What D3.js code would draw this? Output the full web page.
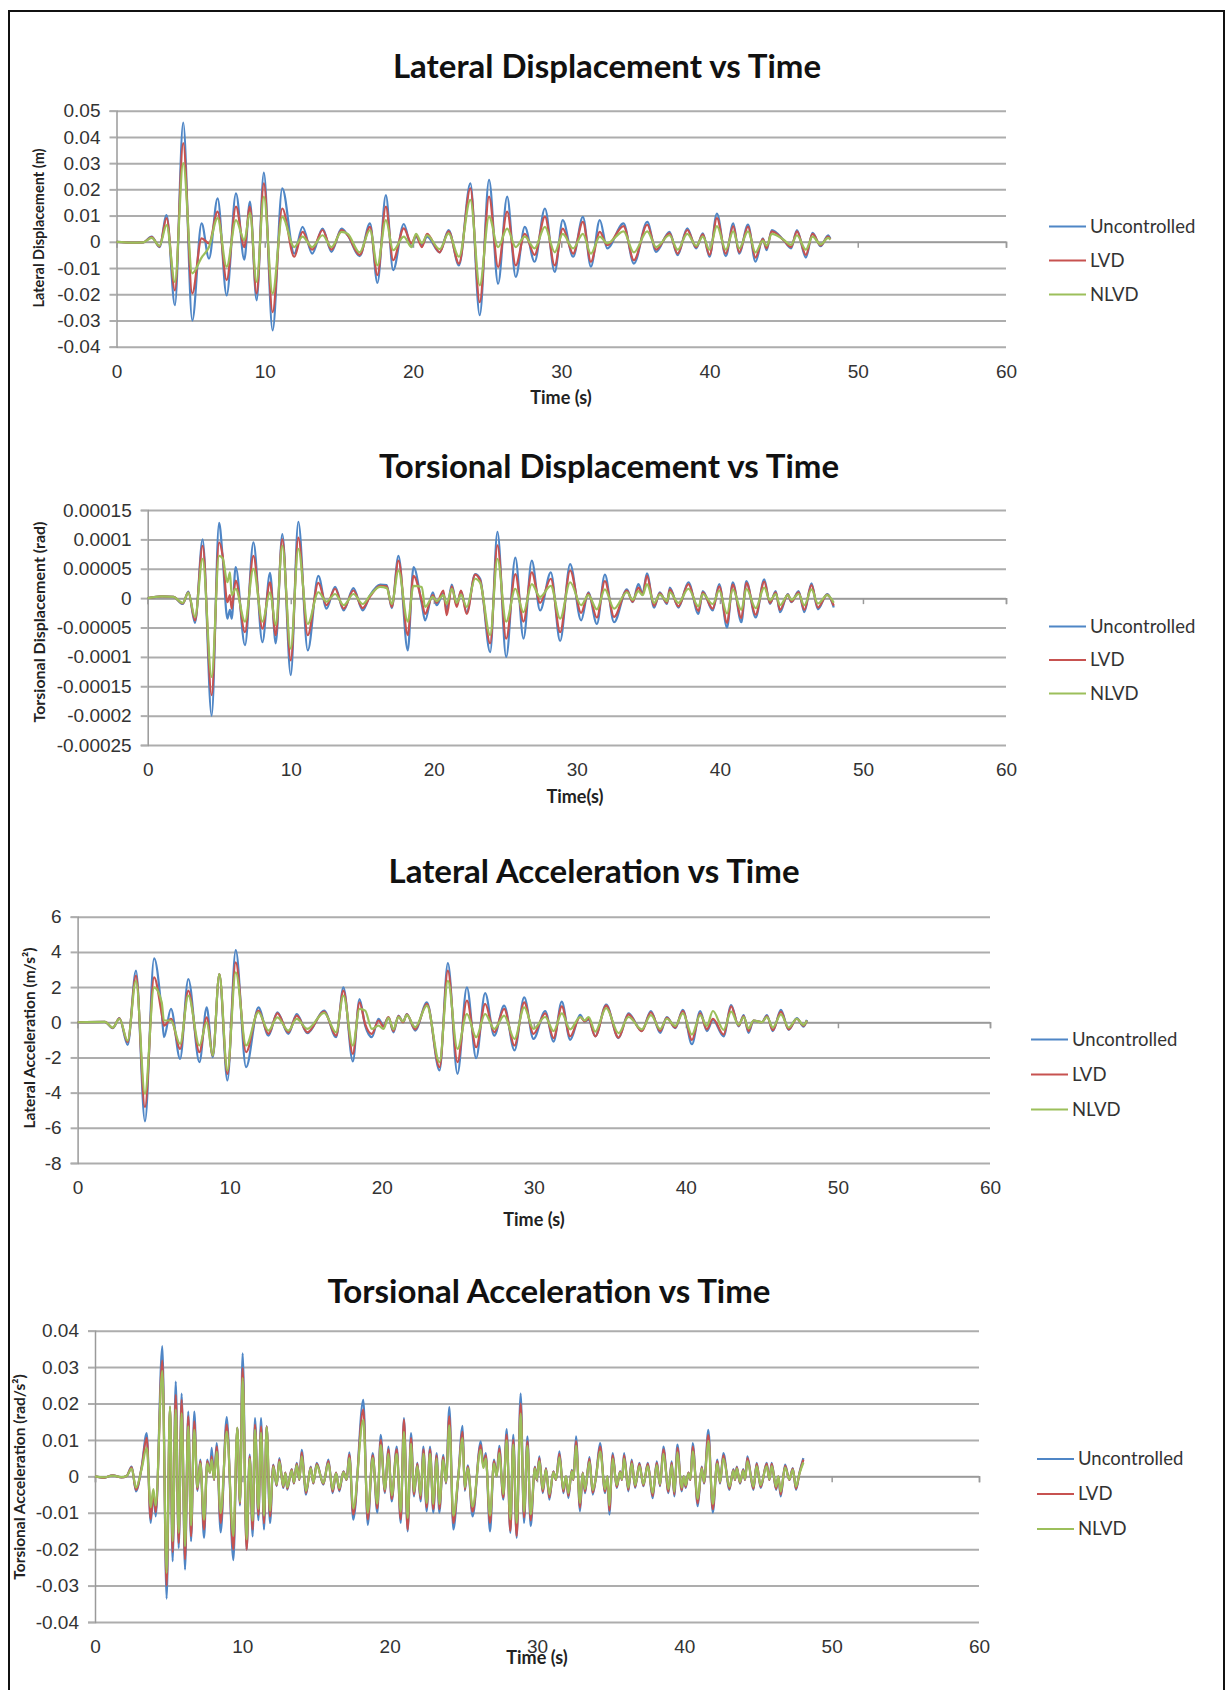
<!DOCTYPE html>
<html>
<head>
<meta charset="utf-8">
<script src="https://cdn.jsdelivr.net/npm/d3@7"></script>
<style>
  body { margin: 0; background: #fff; }
  svg { display: block; font-family: Lato, "Noto Sans", sans-serif; }
</style>
</head>
<body>
<script>
// ---------- shared ----------
const xTicks = [0, 10, 20, 30, 40, 50, 60];
const seriesNames = ["Uncontrolled", "LVD", "NLVD"];

// ---------- Lateral Displacement (m) ----------
const latDispTicks = [0.05, 0.04, 0.03, 0.02, 0.01, 0, -0.01, -0.02, -0.03, -0.04];
const latDispLabels = ["0.05", "0.04", "0.03", "0.02", "0.01", "0", "-0.01", "-0.02", "-0.03", "-0.04"];
const latDispTime = [
  0, 1.0, 1.8, 2.37, 2.9, 3.38, 3.94, 4.5, 5.11, 5.74,
  6.24, 6.82, 7.43, 8.06, 8.62, 9.0, 9.45, 9.94, 10.53, 11.18,
  11.99, 12.55, 13.2, 13.9, 14.5, 15.18, 15.6, 16.4, 17.1, 17.6,
  18.17, 18.66, 19.38, 19.9, 20.2, 20.6, 20.95, 21.8, 22.4, 23.1,
  23.87, 24.5, 25.13, 25.74, 26.35, 26.93, 27.54, 28.2, 28.9, 29.56,
  30.1, 30.8, 31.46, 32.0, 32.6, 33.1, 34.2, 34.9, 35.8, 36.4,
  37.3, 37.85, 38.5, 39.1, 39.55, 40.0, 40.5, 41.1, 41.6, 42.0,
  42.6, 43.1, 43.6, 43.85, 44.2, 45.0, 45.5, 45.9, 46.5, 46.95,
  47.5, 48.0, 48.15];
const latDispUnc = [
  0, -0.0003, -0.0002, 0.002, -0.002, 0.0102, -0.0242, 0.0455, -0.030, 0.007,
  -0.0064, 0.0166, -0.0204, 0.0185, -0.0068, 0.0153, -0.0223, 0.0264, -0.0338, 0.0204,
  -0.0045, 0.0057, -0.0045, 0.005, -0.0038, 0.005, 0.0025, -0.0055, 0.007, -0.0157,
  0.0178, -0.0108, 0.0068, -0.002, 0.002, -0.0012, 0.002, -0.004, 0.0045, -0.009,
  0.0223, -0.028, 0.0236, -0.016, 0.0172, -0.0134, 0.0057, -0.0076, 0.0127, -0.0115,
  0.0083, -0.0057, 0.0095, -0.0095, 0.0083, -0.0025, 0.007, -0.0083, 0.0076, -0.0038,
  0.0038, -0.0051, 0.0051, -0.0025, 0.0032, -0.0057, 0.0108, -0.0055, 0.007, -0.0045,
  0.0066, -0.0076, 0.0013, -0.0032, 0.0045, 0.0006, -0.0025, 0.0045, -0.006, 0.0034,
  -0.0017, 0.0025, 0.0012];
const latDispLvd = [
  0, -0.0003, -0.0002, 0.0018, -0.0018, 0.009, -0.0185, 0.0376, -0.0197, 0.0013,
  -0.0006, 0.0115, -0.0146, 0.0134, -0.002, 0.0134, -0.0197, 0.0223, -0.0268, 0.0127,
  -0.0057, 0.0038, -0.003, 0.0045, -0.003, 0.0045, 0.0025, -0.005, 0.0057, -0.0127,
  0.0134, -0.007, 0.0051, -0.0006, 0.0025, -0.002, 0.003, -0.004, 0.004, -0.0083,
  0.0204, -0.023, 0.0172, -0.0096, 0.0115, -0.009, 0.003, -0.005, 0.0096, -0.009,
  0.005, -0.0045, 0.0076, -0.0076, 0.0038, -0.0013, 0.006, -0.007, 0.0065, -0.003,
  0.0032, -0.0045, 0.0045, -0.002, 0.0028, -0.005, 0.009, -0.0045, 0.006, -0.004,
  0.0058, -0.006, 0.001, -0.0025, 0.004, 0.0006, -0.002, 0.004, -0.005, 0.003,
  -0.0014, 0.002, 0.001];
const latDispNlvd = [
  0, -0.0003, -0.0002, 0.0015, -0.0015, 0.0064, -0.0153, 0.030, -0.012, -0.006,
  -0.002, 0.009, -0.0095, 0.0083, 0.0006, 0.011, -0.0153, 0.0172, -0.0197, 0.0095,
  -0.002, 0.002, -0.002, 0.0025, -0.002, 0.0038, 0.003, -0.004, 0.0045, -0.009,
  0.0083, -0.0032, 0.002, -0.002, 0.003, -0.0005, 0.0025, -0.0028, 0.0032, -0.0057,
  0.016, -0.0166, 0.0096, -0.002, 0.005, -0.002, 0.002, -0.0025, 0.0057, -0.004,
  0.003, -0.0025, 0.003, -0.0045, 0.002, -0.0006, 0.004, -0.004, 0.004, -0.002,
  0.0025, -0.003, 0.003, -0.0015, 0.002, -0.003, 0.006, -0.003, 0.004, -0.0025,
  0.004, -0.004, 0.0005, -0.0015, 0.003, 0.0008, -0.0012, 0.0025, -0.003, 0.002,
  -0.001, 0.0015, 0.0008];

// ---------- Torsional Displacement (rad) ----------
const torDispTicks = [0.00015, 0.0001, 0.00005, 0, -0.00005, -0.0001, -0.00015, -0.0002, -0.00025];
const torDispLabels = ["0.00015", "0.0001", "0.00005", "0", "-0.00005", "-0.0001", "-0.00015", "-0.0002", "-0.00025"];
const torDispTime = [
  0, 1.0, 1.8, 2.45, 2.84, 3.31, 3.84, 4.47, 4.99, 5.24,
  5.57, 5.75, 5.87, 6.15, 6.8, 7.39, 8.02, 8.55, 8.95, 9.41,
  10.0, 10.53, 11.19, 11.93, 12.5, 13.1, 13.7, 14.38, 15.03, 15.55,
  16.25, 16.71, 17.06, 17.53, 18.18, 18.58, 19.16, 19.39, 19.93, 20.2,
  20.67, 20.9, 21.26, 21.6, 21.9, 22.3, 22.89, 23.24, 23.94, 24.45,
  25.06, 25.7, 26.27, 26.85, 27.43, 28.18, 28.83, 29.53, 30.3, 30.8,
  31.4, 31.96, 32.6, 33.5, 33.9, 34.3, 34.6, 34.9, 35.4, 35.8,
  36.3, 36.5, 37.1, 37.8, 38.5, 38.8, 39.5, 39.95, 40.5, 40.9,
  41.5, 41.85, 42.5, 43.1, 43.5, 43.9, 44.2, 44.75, 45.0, 45.5,
  45.9, 46.4, 46.85, 47.5, 47.96];
const torDispUnc = [
  0, 0.3e-5, 0.2e-5, -1.0e-5, 1.1e-5, -4.2e-5, 10.0e-5, -20.0e-5, 12.8e-5, 7.0e-5,
  -3.5e-5, -2.0e-5, -3.5e-5, 5.3e-5, -8.0e-5, 9.5e-5, -7.5e-5, 4.3e-5, -7.7e-5, 10.9e-5,
  -13.1e-5, 13.0e-5, -8.9e-5, 3.8e-5, -1.8e-5, 1.9e-5, -2.1e-5, 1.7e-5, -2.1e-5, 0.5e-5,
  2.3e-5, 2.2e-5, -1.7e-5, 7.2e-5, -8.9e-5, 5.3e-5, -1.0e-5, -3.8e-5, 1.0e-5, -1.2e-5,
  0.8e-5, -2.0e-5, 2.3e-5, -1.2e-5, 1.2e-5, -2.4e-5, 4.1e-5, 3.3e-5, -9.2e-5, 11.3e-5,
  -10.0e-5, 6.9e-5, -6.9e-5, 6.4e-5, -2.1e-5, 4.4e-5, -7.3e-5, 5.8e-5, -3.8e-5, 1.0e-5,
  -4.4e-5, 4.0e-5, -4.1e-5, 1.5e-5, -0.7e-5, 2.4e-5, 0.8e-5, 4.2e-5, -1.6e-5, 1.0e-5,
  -1.0e-5, 1.8e-5, -1.6e-5, 2.7e-5, -2.7e-5, 1.2e-5, -2.1e-5, 2.4e-5, -5.0e-5, 2.7e-5,
  -4.1e-5, 2.9e-5, -3.3e-5, 3.2e-5, -1.0e-5, 1.2e-5, -2.4e-5, 0.7e-5, -0.7e-5, 1.2e-5,
  -2.4e-5, 2.5e-5, -1.9e-5, 0.7e-5, -1.6e-5];
const torDispLvd = [
  0, 0.3e-5, 0.2e-5, -0.9e-5, 1.0e-5, -3.8e-5, 8.9e-5, -16.5e-5, 9.5e-5, 7.2e-5,
  -0.7e-5, 0.5e-5, -1.8e-5, 3.0e-5, -5.8e-5, 7.2e-5, -5.2e-5, 2.7e-5, -6.3e-5, 10.0e-5,
  -10.6e-5, 10.3e-5, -6.3e-5, 2.6e-5, -1.2e-5, 1.6e-5, -1.8e-5, 1.3e-5, -1.7e-5, 0.3e-5,
  2.1e-5, 2.0e-5, -1.5e-5, 6.4e-5, -6.3e-5, 3.8e-5, -0.5e-5, -2.7e-5, 0.5e-5, -0.8e-5,
  1.3e-5, -2.9e-5, 2.0e-5, -1.5e-5, 1.3e-5, -2.7e-5, 4.0e-5, 3.0e-5, -7.7e-5, 9.0e-5,
  -6.9e-5, 4.1e-5, -4.0e-5, 4.4e-5, -0.8e-5, 3.3e-5, -5.8e-5, 4.7e-5, -2.5e-5, 0.8e-5,
  -3.3e-5, 2.9e-5, -3.2e-5, 1.3e-5, -0.6e-5, 1.8e-5, 0.6e-5, 3.8e-5, -1.3e-5, 0.8e-5,
  -0.8e-5, 1.5e-5, -1.4e-5, 2.4e-5, -2.2e-5, 1.0e-5, -1.8e-5, 2.0e-5, -4.2e-5, 2.3e-5,
  -3.4e-5, 2.6e-5, -2.8e-5, 2.8e-5, -0.8e-5, 1.0e-5, -2.0e-5, 0.6e-5, -0.6e-5, 1.0e-5,
  -2.0e-5, 2.2e-5, -1.6e-5, 0.6e-5, -1.3e-5];
const torDispNlvd = [
  0, 0.3e-5, 0.2e-5, -0.8e-5, 0.9e-5, -3.2e-5, 6.7e-5, -13.4e-5, 7.2e-5, 6.8e-5,
  2.7e-5, 4.4e-5, 0.5e-5, 1.6e-5, -4.0e-5, 5.0e-5, -4.0e-5, 1.0e-5, -4.6e-5, 8.9e-5,
  -8.6e-5, 8.4e-5, -4.4e-5, 1.0e-5, -0.6e-5, 0.7e-5, -1.2e-5, 0.7e-5, -1.0e-5, 0.5e-5,
  1.9e-5, 1.7e-5, -1.0e-5, 4.7e-5, -4.0e-5, 2.1e-5, 1.9e-5, -1.5e-5, 0.2e-5, -0.5e-5,
  0.5e-5, -1.0e-5, 1.6e-5, -0.8e-5, 0.6e-5, -1.5e-5, 3.3e-5, 2.6e-5, -6.3e-5, 6.7e-5,
  -4.0e-5, 1.6e-5, -2.4e-5, 2.4e-5, 0.2e-5, 2.1e-5, -3.5e-5, 2.7e-5, -1.2e-5, 0.5e-5,
  -1.9e-5, 1.5e-5, -1.8e-5, 1.0e-5, -0.3e-5, 1.2e-5, 0.5e-5, 2.4e-5, -0.8e-5, 0.6e-5,
  -0.5e-5, 1.0e-5, -0.8e-5, 1.6e-5, -1.4e-5, 0.7e-5, -1.0e-5, 1.3e-5, -2.6e-5, 1.5e-5,
  -2.0e-5, 1.6e-5, -1.7e-5, 1.8e-5, -0.4e-5, 0.7e-5, -1.2e-5, 0.5e-5, -0.3e-5, 0.7e-5,
  -1.2e-5, 1.5e-5, -0.9e-5, 0.5e-5, -0.8e-5];

// ---------- Lateral Acceleration (m/s2) ----------
const latAccTicks = [6, 4, 2, 0, -2, -4, -6, -8];
const latAccLabels = ["6", "4", "2", "0", "-2", "-4", "-6", "-8"];
const latAccTime = [
  0, 1.8, 2.31, 2.75, 3.29, 3.84, 4.43, 5.03, 5.53, 5.68,
  6.14, 6.74, 7.28, 8.01, 8.49, 8.89, 9.32, 9.85, 10.4, 11.08,
  11.89, 12.55, 13.14, 13.86, 14.41, 15.11, 16.21, 17.0, 17.48, 18.1,
  18.54, 18.91, 19.35, 19.79, 20.11, 20.44, 20.77, 21.1, 21.4, 21.65,
  22.2, 22.97, 23.8, 24.35, 24.98, 25.6, 26.21, 26.8, 27.4, 28.05,
  28.73, 29.37, 29.98, 30.75, 31.3, 31.84, 32.39, 33.05, 33.35, 33.6,
  34.04, 34.76, 35.57, 36.23, 37.1, 37.7, 38.31, 38.75, 39.3, 39.8,
  40.4, 40.94, 41.38, 41.78, 42.48, 42.98, 43.47, 43.8, 44.12, 44.45,
  45.0, 45.33, 45.72, 46.25, 46.76, 47.3, 47.74, 47.96];
const latAccUnc = [
  0, 0.02, -0.34, 0.23, -1.29, 2.93, -5.63, 3.63, 0.6, -0.85,
  0.76, -2.08, 2.46, -2.27, 0.85, -1.98, 2.74, -3.31, 4.1, -2.55,
  0.85, -0.76, 0.57, -0.66, 0.47, -0.62, 0.66, -0.85, 1.98, -2.23,
  1.32, -0.19, -0.85, 0.19, -0.19, 0.28, -0.57, 0.38, 0.0, 0.47,
  -0.47, 1.13, -2.74, 3.36, -2.93, 1.98, -2.04, 1.66, -0.76, 0.95,
  -1.6, 1.42, -0.95, 0.64, -1.1, 1.17, -1.0, 0.42, 0.05, 0.15,
  -0.8, 1.0, -0.9, 0.5, -0.5, 0.64, -0.6, 0.3, -0.34, 0.7,
  -1.25, 0.64, -0.5, 0.13, -0.8, 0.98, -0.23, 0.4, -0.6, 0.1,
  0.0, 0.4, -0.5, 0.7, -0.43, 0.23, -0.25, 0.13];
const latAccLvd = [
  0, 0.02, -0.32, 0.22, -1.13, 2.65, -4.82, 2.55, 0.5, -0.19,
  0.19, -1.51, 1.8, -1.7, 0.28, -1.89, 2.74, -2.93, 3.4, -1.7,
  0.66, -0.66, 0.5, -0.57, 0.38, -0.57, 0.6, -0.76, 1.8, -1.8,
  1.13, -0.1, -0.66, 0.1, -0.25, 0.3, -0.5, 0.35, 0.0, 0.45,
  -0.4, 1.04, -2.55, 2.93, -2.27, 1.23, -1.42, 1.04, -0.57, 0.76,
  -1.32, 1.13, -0.66, 0.5, -0.9, 0.9, -0.8, 0.3, 0.05, 0.2,
  -0.8, 0.95, -0.87, 0.45, -0.5, 0.57, -0.5, 0.25, -0.3, 0.64,
  -1.0, 0.5, -0.4, 0.2, -0.7, 0.9, -0.2, 0.35, -0.5, 0.1,
  0.0, 0.35, -0.45, 0.6, -0.4, 0.2, -0.2, 0.1];
const latAccNlvd = [
  0, 0.02, -0.3, 0.2, -1.04, 2.36, -4.06, 1.98, 1.13, 0.1,
  0.1, -1.23, 1.51, -1.32, 0.0, -1.89, 2.74, -2.74, 2.84, -1.32,
  0.57, -0.47, 0.28, -0.47, 0.19, -0.38, 0.53, -0.57, 1.51, -1.32,
  0.76, 0.66, -0.38, -0.19, -0.38, 0.25, -0.4, 0.3, 0.05, 0.4,
  -0.28, 0.95, -2.27, 2.36, -1.51, 0.47, -0.85, 0.47, -0.38, 0.38,
  -0.95, 0.85, -0.38, 0.3, -0.5, 0.5, -0.4, 0.3, 0.1, 0.3,
  -0.53, 0.8, -0.62, 0.3, -0.4, 0.4, -0.38, 0.2, -0.2, 0.5,
  -0.7, 0.4, -0.2, 0.64, -0.43, 0.6, -0.15, 0.3, -0.35, 0.1,
  0.0, 0.3, -0.3, 0.45, -0.3, 0.2, -0.15, 0.1];

// ---------- Torsional Acceleration (rad/s2) ----------
const torAccTicks = [0.04, 0.03, 0.02, 0.01, 0, -0.01, -0.02, -0.03, -0.04];
const torAccLabels = ["0.04", "0.03", "0.02", "0.01", "0", "-0.01", "-0.02", "-0.03", "-0.04"];
const torAccTime = [
  0, 0.6, 1.2, 1.8, 2.15, 2.49, 2.78, 3.17, 3.51, 3.78,
  3.96, 4.12, 4.57, 4.86, 5.09, 5.27, 5.48, 5.68, 5.88, 6.11,
  6.33, 6.52, 6.74, 6.95, 7.15, 7.4, 7.62, 7.8, 7.92, 8.08,
  8.26, 8.53, 8.94, 9.39, 9.66, 9.84, 10.02, 10.29, 10.5, 10.7,
  10.86, 11.09, 11.27, 11.47, 11.65, 11.88, 12.1, 12.33, 12.51, 12.78,
  12.92, 13.05, 13.35, 13.5, 13.69, 13.87, 14.03, 14.32, 14.64, 14.82,
  15.05, 15.5, 15.84, 16.13, 16.36, 16.58, 16.86, 17.08, 17.26, 17.53,
  18.21, 18.51, 18.85, 19.16, 19.39, 19.68, 19.91, 20.14, 20.48, 20.75,
  20.97, 21.22, 21.45, 21.65, 21.88, 22.1, 22.29, 22.51, 22.74, 22.96,
  23.19, 23.37, 23.64, 23.82, 24.05, 24.32, 24.64, 24.95, 25.1, 25.3,
  25.63, 26.18, 26.36, 26.52, 26.81, 27.08, 27.26, 27.44, 27.71, 27.94,
  28.19, 28.39, 28.62, 28.89, 29.12, 29.35, 29.57, 29.86, 29.98, 30.16,
  30.39, 30.61, 30.84, 31.11, 31.29, 31.52, 31.79, 31.97, 32.13, 32.36,
  32.47, 32.65, 32.92, 33.1, 33.26, 33.56, 33.78, 34.01, 34.28, 34.62,
  34.78, 34.91, 35.14, 35.41, 35.64, 35.77, 35.91, 36.2, 36.43, 36.66,
  36.95, 37.22, 37.52, 37.85, 38.13, 38.35, 38.58, 38.92, 39.14, 39.32,
  39.53, 39.82, 39.96, 40.09, 40.28, 40.41, 40.57, 40.91, 41.18, 41.34,
  41.63, 41.93, 42.24, 42.42, 42.65, 43.06, 43.33, 43.44, 43.56, 43.78,
  44.0, 44.12, 44.28, 44.69, 44.91, 45.18, 45.59, 45.77, 45.93, 46.23,
  46.38, 46.54, 46.84, 47.13, 47.36, 47.58, 47.81, 48.08];
const torAccUnc = [
  0, -0.0004, 0.0003, -0.0003, 0.0001, 0.0027, -0.0041, 0.0027, 0.0119, -0.0128,
  -0.0046, -0.011, 0.0358, -0.0336, 0.019, -0.0233, 0.026, -0.0197, 0.0227, -0.0256,
  0.0178, -0.0178, 0.0178, -0.004, 0.0046, -0.0169, 0.0046, 0.001, 0.0078, -0.001,
  0.0091, -0.0154, 0.0163, -0.023, 0.0133, -0.008, 0.0338, -0.0201, 0.006, -0.0165,
  0.016, -0.012, 0.016, -0.0146, 0.0137, -0.0128, 0.0032, -0.0027, 0.005, -0.0032,
  0.001, -0.0037, 0.002, -0.002, 0.0037, -0.001, 0.0073, -0.005, 0.0027, -0.002,
  0.0037, -0.0023, 0.0046, -0.0046, 0.001, -0.0041, 0.0014, -0.001, 0.0066, -0.0119,
  0.021, -0.0133, 0.0064, -0.01, 0.0114, -0.0046, 0.0082, -0.0069, 0.0082, -0.0128,
  0.016, -0.0151, 0.0119, -0.0055, 0.0037, -0.0069, 0.0082, -0.0096, 0.0082, -0.01,
  0.0064, -0.01, 0.0059, -0.002, 0.019, -0.0146, -0.001, 0.0139, -0.004, 0.003,
  -0.011, 0.0096, 0.003, 0.0064, -0.0151, 0.0046, 0, 0.0084, -0.0064, 0.013,
  -0.0155, 0.0114, -0.0169, 0.0227, -0.0128, 0.011, -0.0137, 0.0027, -0.001, 0.0055,
  -0.0046, 0.0023, -0.0064, 0.0014, -0.001, 0.0069, -0.0046, 0, -0.006, 0.0018,
  -0.001, 0.011, -0.0096, 0.001, -0.0046, 0.0053, -0.005, 0, 0.0091, -0.0046,
  0, -0.0105, 0.0064, -0.0032, 0.0014, -0.001, 0.0064, -0.0041, 0.0046, -0.0032,
  0.0037, -0.0027, 0.0037, -0.006, 0.0041, -0.0027, 0.0082, -0.0046, 0.0041, -0.0055,
  0.0087, -0.0041, 0, -0.0032, 0.001, -0.001, 0.0091, -0.0082, 0.0027, -0.002,
  0.0128, -0.01, 0.0046, -0.002, 0.0064, -0.0037, 0.002, -0.001, 0.0027, -0.002,
  0.002, -0.001, 0.0055, -0.0037, 0.0037, -0.0032, 0.0037, -0.001, 0.0037, -0.0037,
  0, -0.0055, 0.0032, -0.001, 0.0023, -0.0037, 0.0009, 0.005];
const torAccLvd = [
  0, -0.0004, 0.0003, -0.0003, 0.0001, 0.0025, -0.0037, 0.0025, 0.0106, -0.0118,
  -0.0042, -0.0098, 0.0318, -0.03, 0.019, -0.0208, 0.0224, -0.0183, 0.021, -0.0228,
  0.0165, -0.0165, 0.0151, -0.0036, 0.0042, -0.0146, 0.0042, 0.001, 0.0055, -0.001,
  0.0082, -0.0128, 0.0142, -0.0201, 0.0133, -0.0075, 0.0297, -0.0201, 0.0055, -0.0146,
  0.0142, -0.0106, 0.0137, -0.0128, 0.0137, -0.011, 0.003, -0.0025, 0.0046, -0.003,
  0.001, -0.0034, 0.0019, -0.0019, 0.0034, -0.001, 0.0066, -0.0046, 0.0025, -0.0019,
  0.0034, -0.0021, 0.0042, -0.0042, 0.001, -0.0038, 0.0013, -0.001, 0.006, -0.0105,
  0.0183, -0.0118, 0.0058, -0.0088, 0.01, -0.0042, 0.0074, -0.0062, 0.0074, -0.0118,
  0.0155, -0.0146, 0.0105, -0.005, 0.0034, -0.0062, 0.0074, -0.0086, 0.0074, -0.009,
  0.0058, -0.009, 0.0053, -0.0018, 0.0165, -0.0128, -0.001, 0.0122, -0.0036, 0.0027,
  -0.0097, 0.0086, 0.0027, 0.0058, -0.0128, 0.0042, 0, 0.0076, -0.0058, 0.0115,
  -0.015, 0.01, -0.0164, 0.02, -0.0113, 0.0097, -0.0121, 0.0025, -0.001, 0.005,
  -0.0042, 0.0021, -0.0058, 0.0013, -0.001, 0.0062, -0.0042, 0, -0.0054, 0.0016,
  -0.001, 0.0097, -0.0086, 0.001, -0.0042, 0.0048, -0.0045, 0, 0.0082, -0.0042,
  0, -0.0094, 0.0058, -0.0029, 0.0013, -0.001, 0.0058, -0.0037, 0.0042, -0.0029,
  0.0034, -0.0025, 0.0034, -0.0054, 0.0037, -0.0025, 0.0074, -0.0042, 0.0037, -0.005,
  0.0078, -0.0037, 0, -0.0029, 0.001, -0.001, 0.0082, -0.0074, 0.0025, -0.0018,
  0.0113, -0.009, 0.0042, -0.0018, 0.0058, -0.0034, 0.0018, -0.001, 0.0025, -0.0018,
  0.0018, -0.001, 0.005, -0.0034, 0.0034, -0.0029, 0.0034, -0.001, 0.0034, -0.0034,
  0, -0.005, 0.0029, -0.001, 0.0021, -0.0034, 0.0008, 0.0046];
const torAccNlvd = [
  0, -0.0003, 0.0002, -0.0002, 0.0001, 0.0021, -0.0031, 0.0021, 0.0078, -0.0085,
  -0.0035, -0.008, 0.029, -0.0265, 0.0192, -0.0178, 0.0183, -0.0155, 0.0173, -0.0192,
  0.0137, -0.0135, 0.0128, -0.003, 0.0035, -0.0119, 0.0035, 0.001, 0.0045, -0.0008,
  0.0068, -0.0101, 0.0123, -0.0164, 0.0133, -0.007, 0.027, -0.0173, 0.0048, -0.0122,
  0.0128, -0.009, 0.012, -0.0108, 0.0135, -0.0095, 0.0026, -0.0022, 0.004, -0.0026,
  0.0008, -0.003, 0.0016, -0.0016, 0.003, -0.0008, 0.0055, -0.004, 0.0022, -0.0016,
  0.003, -0.0018, 0.0036, -0.0036, 0.0008, -0.0032, 0.0011, -0.0008, 0.005, -0.0088,
  0.0155, -0.01, 0.005, -0.0075, 0.0086, -0.0036, 0.0062, -0.0052, 0.0062, -0.0097,
  0.0122, -0.0115, 0.009, -0.0042, 0.0028, -0.0052, 0.0062, -0.0073, 0.0062, -0.0076,
  0.0049, -0.0076, 0.0045, -0.0015, 0.014, -0.0108, -0.0008, 0.0105, -0.003, 0.0023,
  -0.0083, 0.0073, 0.0023, 0.0049, -0.0108, 0.0035, 0, 0.0064, -0.0049, 0.0099,
  -0.0118, 0.0087, -0.0128, 0.0172, -0.0097, 0.0084, -0.0104, 0.0021, -0.0008, 0.0042,
  -0.0035, 0.0018, -0.0049, 0.0011, -0.0008, 0.0052, -0.0035, 0, -0.0046, 0.0014,
  -0.0008, 0.0084, -0.0073, 0.0008, -0.0035, 0.004, -0.0038, 0, 0.0069, -0.0035,
  0, -0.008, 0.0049, -0.0024, 0.0011, -0.0008, 0.0049, -0.0031, 0.0035, -0.0024,
  0.0028, -0.0021, 0.0028, -0.0046, 0.0031, -0.0021, 0.0062, -0.0035, 0.0031, -0.0042,
  0.0066, -0.0031, 0, -0.0024, 0.0008, -0.0008, 0.0069, -0.0062, 0.0021, -0.0015,
  0.0097, -0.0076, 0.0035, -0.0015, 0.0049, -0.0028, 0.0015, -0.0008, 0.0021, -0.0015,
  0.0015, -0.0008, 0.0042, -0.0028, 0.0028, -0.0024, 0.0028, -0.0008, 0.0028, -0.0028,
  0, -0.0042, 0.0024, -0.0008, 0.0018, -0.0028, 0.0007, 0.0038];

// ---------- drawing ----------
const W = 1226, H = 1690
const colors = ["#4f86c6", "#c75250", "#9cbf5b"]
const gridColor = "#adadad"

const panels = [
  { title: "Lateral Displacement vs Time", yTitle: "Lateral Displacement (m)", xTitle: "Time (s)",
    time: latDispTime, series: [latDispUnc, latDispLvd, latDispNlvd],
    ticks: latDispTicks, labels: latDispLabels,
    left: 116.5, right: 1006, top: 110.7, bottom: 346.7, yTitleSize: 14.5,
    titleAt: [607, 66], xTitleAt: [561, 398], yTitleAt: [39, 228], legendAt: [1049, 226.5, 34] },
  { title: "Torsional Displacement vs Time", yTitle: "Torsional Displacement (rad)", xTitle: "Time(s)",
    time: torDispTime, series: [torDispUnc, torDispLvd, torDispNlvd],
    ticks: torDispTicks, labels: torDispLabels,
    left: 147.7, right: 1006, top: 510, bottom: 745, yTitleSize: 16,
    titleAt: [609, 466], xTitleAt: [575, 797], yTitleAt: [39, 622], legendAt: [1049, 626.5, 33.5] },
  { title: "Lateral Acceleration vs Time", yTitle: "Lateral Acceleration (m/s\u00b2)", xTitle: "Time (s)",
    time: latAccTime, series: [latAccUnc, latAccLvd, latAccNlvd],
    ticks: latAccTicks, labels: latAccLabels,
    left: 77.6, right: 990, top: 916.7, bottom: 1163, yTitleSize: 15.5,
    titleAt: [594, 871], xTitleAt: [534, 1219.5], yTitleAt: [30, 1038], legendAt: [1031, 1039.5, 35] },
  { title: "Torsional Acceleration vs Time", yTitle: "Torsional Acceleration (rad/s\u00b2)", xTitle: "Time (s)",
    time: torAccTime, series: [torAccUnc, torAccLvd, torAccNlvd],
    ticks: torAccTicks, labels: torAccLabels,
    left: 95, right: 979, top: 1330.7, bottom: 1622, yTitleSize: 15.5,
    titleAt: [549, 1291], xTitleAt: [537, 1658], yTitleAt: [19.5, 1477], legendAt: [1037, 1459, 35] }
]

const svg = d3.select("body")
  .append("svg")
  .attr("width", W)
  .attr("height", H)

// outer frame of the figure
svg.append("path")
  .attr("d", `M9,${H} V11 H1224 V${H}`)
  .attr("fill", "none")
  .attr("stroke", "#111")
  .attr("stroke-width", 2)

panels.forEach(p => {
  const g = svg.append("g")
  const yMin = d3.min(p.ticks), yMax = d3.max(p.ticks)

  const x = d3.scaleLinear().domain([0, 60]).range([p.left, p.right])
  const y = d3.scaleLinear().domain([yMin, yMax]).range([p.bottom, p.top])

  // horizontal gridlines
  g.append("g")
    .attr("transform", `translate(${p.left},0)`)
    .call(d3.axisLeft(y).tickValues(p.ticks).tickSize(-(p.right - p.left)).tickFormat(""))
    .call(a => a.select(".domain").remove())
    .call(a => a.selectAll("line").attr("stroke", gridColor).attr("stroke-width", 2))

  // y axis: line, outward ticks, labels
  g.append("g")
    .attr("transform", `translate(${p.left},0)`)
    .call(d3.axisLeft(y).tickValues(p.ticks).tickSize(7).tickPadding(9)
      .tickFormat((d, i) => p.labels[i]))
    .call(a => a.select(".domain").attr("stroke", "#9a9a9a").attr("stroke-width", 1.5))
    .call(a => a.selectAll("line").attr("stroke", gridColor).attr("stroke-width", 2))
    .call(a => a.selectAll("text").attr("font-size", 19).attr("fill", "#333"))

  // x axis sits on zero, labels hang at the bottom of the plot
  g.append("g")
    .attr("transform", `translate(0,${y(0)})`)
    .call(d3.axisBottom(x).tickValues(xTicks).tickSize(6).tickFormat(""))
    .call(a => a.select(".domain").attr("stroke", "#9a9a9a").attr("stroke-width", 1.5))
    .call(a => a.selectAll("line").attr("stroke", "#9a9a9a").attr("stroke-width", 1.5))

  g.append("g")
    .attr("transform", `translate(0,${p.bottom})`)
    .call(d3.axisBottom(x).tickValues(xTicks).tickSize(0).tickPadding(18))
    .call(a => a.select(".domain").remove())
    .call(a => a.selectAll("text").attr("font-size", 19).attr("fill", "#333"))

  // series lines
  const line = d3.line()
    .x(d => x(d[0]))
    .y(d => y(d[1]))
    .curve(d3.curveMonotoneX)

  p.series.forEach((vals, k) => {
    g.append("path")
      .datum(d3.zip(p.time, vals))
      .attr("fill", "none")
      .attr("stroke", colors[k])
      .attr("stroke-width", 2.2)
      .attr("stroke-linejoin", "round")
      .attr("d", line)
  })

  // titles
  g.append("text")
    .attr("x", p.titleAt[0])
    .attr("y", p.titleAt[1])
    .attr("text-anchor", "middle")
    .attr("dy", "0.35em")
    .attr("font-size", 33)
    .attr("font-weight", "bold")
    .attr("fill", "#111")
    .text(p.title)

  g.append("text")
    .attr("x", p.xTitleAt[0])
    .attr("y", p.xTitleAt[1])
    .attr("text-anchor", "middle")
    .attr("dy", "0.35em")
    .attr("font-size", 18)
    .attr("font-weight", "bold")
    .attr("fill", "#222")
    .text(p.xTitle)

  g.append("text")
    .attr("transform", `translate(${p.yTitleAt[0]},${p.yTitleAt[1]}) rotate(-90)`)
    .attr("text-anchor", "middle")
    .attr("dy", "0.35em")
    .attr("font-size", p.yTitleSize)
    .attr("font-weight", "bold")
    .attr("fill", "#222")
    .text(p.yTitle)

  // legend
  const [lx, ly, step] = p.legendAt
  const legend = g.append("g")
  seriesNames.forEach((name, k) => {
    legend.append("line")
      .attr("x1", lx).attr("x2", lx + 37)
      .attr("y1", ly + k * step).attr("y2", ly + k * step)
      .attr("stroke", colors[k])
      .attr("stroke-width", 2.2)
    legend.append("text")
      .attr("x", lx + 41)
      .attr("y", ly + k * step)
      .attr("dy", "0.35em")
      .attr("font-size", 18.5)
      .attr("fill", "#333")
      .text(name)
  })
})
</script>
</body>
</html>
